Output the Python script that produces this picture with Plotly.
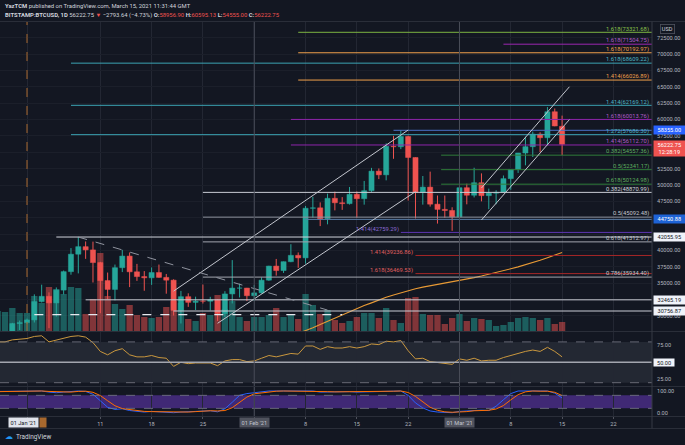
import plotly.graph_objects as go
import pandas as pd

# ---------------- data ----------------
dates = pd.date_range("2020-12-28", "2021-03-15", freq="D")

opens = [26281, 27037, 27360, 28840,
         28983, 29393, 32195, 33000, 31988, 33950, 36770, 39432, 40582, 40088,
         38150, 35404, 34051, 37371, 39144, 36742, 36014, 35828, 36631, 35891,
         35468, 30850, 32945, 32078, 32259, 32254, 32467, 30366, 33364, 34252, 34262,
         33092, 33526, 35466, 37618, 36936, 38290, 39256, 38870, 46448, 46514,
         44839, 47969, 47287, 47153, 48577, 47911, 49133, 52119, 51552, 55906,
         55841, 57412, 54204, 48891, 49676, 47073, 46276, 46106,
         45135, 49587, 48440, 50349, 48374, 48751, 48882, 50971, 52375, 54885,
         55851, 57773, 57221, 61188, 58957]
highs = [27500, 27400, 28950, 29300,
         29600, 33300, 34778, 33600, 34360, 36939, 40365, 42056, 41380, 41350,
         38264, 36628, 37850, 40100, 39700, 37950, 36852, 37405, 37850, 36415,
         35600, 33826, 33456, 32944, 34802, 32921, 32557, 33783, 38531, 34934, 34288,
         34717, 35896, 37662, 38708, 38310, 40955, 39700, 46794, 48200, 47345,
         48678, 48985, 48150, 49700, 49010, 50620, 52618, 52530, 56368, 57505,
         58355, 57535, 54204, 51374, 52041, 48394, 48394, 46600,
         49790, 50200, 52640, 51773, 49448, 49200, 51450, 52400, 54900, 57387,
         58150, 58058, 61900, 61682, 60595]
lows = [26101, 25987, 27360, 27850,
        28803, 29000, 32052, 28130, 29900, 33288, 36300, 36500, 38720, 35111,
        30420, 32531, 32380, 36701, 34408, 35357, 33850, 34750, 35844, 33400,
        30071, 28850, 31390, 30900, 31900, 30837, 29241, 29842, 31915, 32825, 32270,
        32296, 33418, 35366, 36161, 36570, 38215, 37351, 37988, 45020, 43727,
        43994, 46125, 46202, 47014, 45000, 47000, 48947, 50901, 50710, 54000,
        55477, 47622, 44889, 47003, 46700, 44108, 45000, 43000,
        45019, 47047, 48100, 47500, 46300, 47070, 48882, 49274, 51845, 53005,
        54270, 55013, 56083, 58966, 54555]
closes = [27037, 27360, 28840, 28983,
          29393, 32195, 33000, 31988, 33950, 36770, 39432, 40582, 40088, 38150,
          35404, 34051, 37371, 39144, 36742, 36014, 35828, 36631, 35891, 35468,
          30850, 32945, 32078, 32259, 32254, 32467, 30366, 33364, 34252, 34262, 33092,
          33526, 35466, 37618, 36936, 38290, 39256, 38870, 46448, 46514, 44839,
          47969, 47287, 47153, 48577, 47911, 49133, 52119, 51552, 55906, 55841,
          57412, 54204, 48891, 49676, 47073, 46276, 46106, 45135,
          49587, 48440, 50349, 48374, 48751, 48882, 50971, 52375, 54885, 55851,
          57773, 57221, 61188, 59016, 56223]
volumes = [8000, 7600, 9200, 7200,
           7200, 14000, 11200, 17600, 16800, 14800, 17600, 17200, 6800, 12800,
           31200, 14000, 10800, 8800, 10400, 6400, 5600, 5200, 5600, 9600,
           12000, 11200, 4800, 4000, 7200, 6400, 14400, 8800, 12000, 5600, 4000,
           5600, 5600, 6400, 9200, 5600, 6800, 4800, 14800, 10400, 6800,
           8400, 4400, 3200, 4000, 5600, 7200, 7200, 5200, 9200, 4400,
           3200, 13200, 13600, 6800, 6400, 6400, 2800, 5200,
           6800, 4000, 5200, 4800, 4400, 2000, 2400, 3600, 5200, 5600,
           5200, 4400, 5200, 2800, 3600]
rsi = [80, 80, 83, 84,
       85, 88, 89, 80, 83, 86, 88, 89, 87, 79,
       66, 61, 67, 70, 61, 58, 58, 60, 57, 56,
       44, 50, 48, 49, 49, 49, 45, 52, 54, 54, 51,
       52, 56, 60, 58, 61, 63, 62, 74, 74, 69,
       73, 71, 71, 73, 71, 73, 77, 76, 81, 80,
       82, 67, 55, 56, 51, 50, 49, 47,
       55, 53, 56, 52, 53, 53, 57, 60, 64, 66,
       68, 66, 72, 66, 58]
stoch_k = [98, 98, 99, 100,
           100, 100, 100, 95, 92, 95, 98, 100, 98, 85,
           55, 25, 15, 18, 10, 5, 3, 6, 4, 3,
           0, 3, 5, 8, 10, 9, 4, 18, 48, 80, 88,
           92, 96, 100, 100, 100, 100, 98, 100, 100, 95,
           96, 97, 96, 97, 95, 96, 98, 98, 100, 100,
           100, 80, 45, 22, 8, 3, 2, 0,
           6, 8, 12, 12, 10, 30, 60, 88, 100, 100,
           100, 98, 100, 90, 68]
stoch_d = [97, 98, 98, 99,
           100, 100, 100, 98, 96, 94, 95, 98, 99, 94,
           79, 55, 32, 19, 14, 11, 6, 5, 4, 4,
           2, 2, 3, 5, 8, 9, 8, 10, 23, 49, 72,
           87, 92, 96, 99, 100, 100, 99, 99, 99, 98,
           97, 96, 96, 97, 96, 96, 96, 97, 99, 99,
           100, 93, 75, 49, 25, 11, 4, 2,
           3, 5, 9, 11, 11, 17, 33, 59, 83, 96,
           100, 99, 99, 94, 79]

ma_dates = pd.date_range("2021-02-06", "2021-03-15", freq="D")
ma_values = [26900, 27300, 27700, 28200, 28700, 29200, 29700, 30200, 30700, 31150,
             31600, 32000, 32450, 32850, 33200, 33550, 33850, 34150, 34400, 34600,
             34800, 35000, 35150,
             35350, 35600, 35850, 36100, 36350, 36600, 36900, 37200, 37500, 37800,
             38100, 38500, 38900, 39300, 39700]

# Fibonacci levels labelled at the right edge
fib_values = [73321.68, 71504.75, 70192.97, 68609.22, 66026.89, 62169.12, 60013.76,
              57686.30, 56112.70, 54557.36, 52341.17, 50124.98, 48870.99, 45092.48,
              41312.97, 35934.40]
fib_ratios = ["1.618", "1.618", "1.618", "1.618", "1.414", "1.414", "1.618",
              "1.272", "1.414", "0.382", "0.5", "0.618", "0.382", "0.5", "0.618", "0.786"]
fib_starts = ["2021-02-07", "2021-03-07", "2021-02-07", "2021-01-07", "2021-02-07",
              "2021-01-07", "2021-02-06", "2021-01-07", "2021-02-06",
              "2021-02-26 12:00", "2021-02-26 12:00", "2021-02-26 12:00",
              "2021-01-25", "2021-01-25", "2021-01-25", "2021-01-25"]
# Fibonacci levels labelled at their left end
left_values = [42759.29, 39236.86, 36469.53]
left_ratios = ["1.414", "1.414", "1.618"]
left_starts = ["2021-02-21", "2021-02-23", "2021-02-23"]
# horizontal rays with price-axis labels
ray_values = [58355.00, 44750.88, 42055.95, 32465.19, 30756.87]
ray_starts = ["2021-02-20", "2021-02-08", "2021-01-05", "2021-01-09", "2021-01-21"]
last_price = 56222.75
countdown = "12:28:19"

# trend lines: (date0, price0, date1, price1)
trend_lines = [("2021-01-21", 33800, "2021-02-22", 58400),
               ("2021-01-27", 28880, "2021-02-23", 48977),
               ("2021-03-04", 49540, "2021-03-16", 65000),
               ("2021-03-04", 44655, "2021-03-16", 59990)]
desc_line = ("2021-01-08", 42056, "2021-02-11", 30900)
support_dash = ("2021-01-02", 30200, "2021-02-13", 30200)

marker_date = "2021-01-01"
month_lines = ["2021-02-01", "2021-03-01"]
month_texts = ["01 Feb '21", "01 Mar '21"]
tick_dates = ["2021-01-01", "2021-01-11", "2021-01-18", "2021-01-25", "2021-02-01",
              "2021-02-08", "2021-02-15", "2021-02-22", "2021-03-01", "2021-03-08",
              "2021-03-15", "2021-03-22"]
tick_texts = ["", "11", "18", "25", "", "8", "15", "22", "", "8", "15", "22"]
price_ticks = list(range(30000, 72501, 2500))
hidden_price_ticks = [32500, 42500, 45000, 55000]  # covered by label boxes

# ---------------- styling ----------------
W, H = 685, 445
PR = 652  # plot right edge in px
BG = "#131722"
UP, DN = "#26a69a", "#ef5350"
TXT = "#b2b5be"
FONT = "Roboto"
FS = 5.6


def py(px):
    return 1 - px / H


X_RANGE = ["2020-12-28 07:36", "2021-03-27 06:23"]
P_RANGE = [27703, 74894]
DAY_MS = 86400000

fib_colors = ["#7cb342", "#9c27b0", "#f0a04b", "#3ba3b3", "#f0a04b", "#3ba3b3", "#8e24aa",
              "#3ba3b3", "#8e24aa", "#2f7d3a", "#2f7d3a", "#2f7d3a", "#c9ccd4", "#8f939e",
              "#a3a6af", "#a3a6af"]
fib_text_colors = ["#8bc34a", "#b05cc8", "#f0a04b", "#4fb6c4", "#f0a04b", "#4fb6c4", "#b05cc8",
                   "#4fb6c4", "#b05cc8", "#5fae5f", "#5fae5f", "#5fae5f", "#d1d4dc", "#c3c6ce",
                   "#c3c6ce", "#c3c6ce"]
left_colors = ["#5e35b1", "#a52727", "#a52727"]
left_text_colors = ["#8c6bd6", "#e06060", "#e06060"]
ray_colors = ["#4a72c8", "#5a7ea8", "#d1d4dc", "#c9ccd4", "#c9ccd4"]
ray_bg = ["#2962ff", "#1e63d6", "#f0f3fa", "#f0f3fa", "#f0f3fa"]
ray_fg = ["#ffffff", "#ffffff", "#131722", "#131722", "#131722"]

fig = go.Figure()

# volume (base axis y, drawn underneath)
vol_colors = ["rgba(38,166,154,0.5)" if c >= o else "rgba(239,83,80,0.5)"
              for o, c in zip(opens, closes)]
fig.add_trace(go.Bar(x=dates, y=volumes, width=0.86 * DAY_MS, marker_color=vol_colors,
                     marker_line_width=0, xaxis="x", yaxis="y", hoverinfo="skip"))

# moving average
fig.add_trace(go.Scatter(x=ma_dates, y=ma_values, mode="lines",
                         line=dict(color="#e89a35", width=1.1), xaxis="x", yaxis="y2"))

# candle wicks
for up in (True, False):
    xs, ys = [], []
    for d, o, h, l, c in zip(dates, opens, highs, lows, closes):
        if (c >= o) == up:
            xs += [d, d, None]
            ys += [l, h, None]
    fig.add_trace(go.Scatter(x=xs, y=ys, mode="lines",
                             line=dict(color=UP if up else DN, width=1),
                             xaxis="x", yaxis="y2", hoverinfo="skip"))
# candle bodies
body_colors = [UP if c >= o else DN for o, c in zip(opens, closes)]
fig.add_trace(go.Bar(x=dates, y=[abs(c - o) for o, c in zip(opens, closes)],
                     base=[min(o, c) for o, c in zip(opens, closes)],
                     width=0.7 * DAY_MS, marker_color=body_colors,
                     marker_line_color=body_colors, marker_line_width=0.5,
                     xaxis="x", yaxis="y2", hoverinfo="skip"))

# horizontal levels
for v, s, col in zip(fib_values, fib_starts, fib_colors):
    fig.add_trace(go.Scatter(x=[s, X_RANGE[1]], y=[v, v], mode="lines",
                             line=dict(color=col, width=1), xaxis="x", yaxis="y2"))
for v, s, col in zip(left_values, left_starts, left_colors):
    fig.add_trace(go.Scatter(x=[s, X_RANGE[1]], y=[v, v], mode="lines",
                             line=dict(color=col, width=1), xaxis="x", yaxis="y2"))
for v, s, col in zip(ray_values, ray_starts, ray_colors):
    fig.add_trace(go.Scatter(x=[s, X_RANGE[1]], y=[v, v], mode="lines",
                             line=dict(color=col, width=1), xaxis="x", yaxis="y2"))

# trend lines
for x0, y0, x1, y1 in trend_lines:
    fig.add_trace(go.Scatter(x=[x0, x1], y=[y0, y1], mode="lines",
                             line=dict(color="#c3c6ce", width=1), xaxis="x", yaxis="y2"))
fig.add_trace(go.Scatter(x=[desc_line[0], desc_line[2]], y=[desc_line[1], desc_line[3]],
                         mode="lines", line=dict(color="#8f939e", width=1, dash="dash"),
                         xaxis="x", yaxis="y2"))
fig.add_trace(go.Scatter(x=[support_dash[0], support_dash[2]],
                         y=[support_dash[1], support_dash[3]], mode="lines",
                         line=dict(color="#e6e8ee", width=1.3, dash="dash"),
                         xaxis="x", yaxis="y2"))
# orange dashed vertical marker
fig.add_trace(go.Scatter(x=[marker_date, marker_date], y=P_RANGE, mode="lines",
                         line=dict(color="#a8682e", width=1, dash="dash"),
                         xaxis="x", yaxis="y2"))

# RSI
fig.add_trace(go.Scatter(x=dates, y=rsi, mode="lines", line=dict(color="#c9973e", width=1),
                         xaxis="x2", yaxis="y3"))
# Stoch RSI
fig.add_trace(go.Scatter(x=dates, y=stoch_k, mode="lines", line=dict(color="#2962ff", width=1),
                         xaxis="x3", yaxis="y4"))
fig.add_trace(go.Scatter(x=dates, y=stoch_d, mode="lines", line=dict(color="#ff6d00", width=1),
                         xaxis="x3", yaxis="y4"))

# ---------------- shapes ----------------
shapes = []
# bands
shapes.append(dict(type="rect", xref="paper", x0=0, x1=1, yref="y3", y0=20, y1=80,
                   fillcolor="rgba(120,123,134,0.17)", line_width=0, layer="below"))
shapes.append(dict(type="rect", xref="paper", x0=0, x1=1, yref="y4", y0=20, y1=80,
                   fillcolor="rgba(110,60,200,0.5)", line_width=0, layer="below"))
for ax in ("y3", "y4"):
    for lv in (20, 80):
        shapes.append(dict(type="line", xref="paper", x0=0, x1=1, yref=ax, y0=lv, y1=lv,
                           line=dict(color="#787b86", width=0.8, dash="dash")))
shapes.append(dict(type="line", xref="paper", x0=0, x1=1, yref="y3", y0=50, y1=50,
                   line=dict(color="#a3a6af", width=1.4)))
# month vertical lines
for d in month_lines:
    shapes.append(dict(type="line", xref="x", x0=d, x1=d, yref="paper", y0=py(416), y1=py(22),
                       line=dict(color="#4a4e59", width=1)))
# separators
for yy in (21.5, 331.5, 386.5, 416.5, 428.5):
    shapes.append(dict(type="line", xref="paper", x0=0, x1=W / PR, yref="paper",
                       y0=py(yy), y1=py(yy), line=dict(color="#2a2e39", width=1)))
shapes.append(dict(type="line", xref="paper", x0=1, x1=1, yref="paper", y0=py(428.5),
                   y1=py(21.5), line=dict(color="#363a45", width=1)))

# ---------------- annotations ----------------
ann = []
fnt = lambda c, s=FS: dict(family=FONT, size=s, color=c)
for v, r, tc in zip(fib_values, fib_ratios, fib_text_colors):
    ann.append(dict(xref="paper", x=650 / PR, xanchor="right", yref="y2", y=v,
                    yanchor="middle", yshift=3.2, text=f"{r}({v:.2f})", showarrow=False,
                    font=fnt(tc, 5.8), borderpad=0))
for v, r, s, tc in zip(left_values, left_ratios, left_starts, left_text_colors):
    ann.append(dict(xref="x", x=s, xanchor="right", xshift=-1, yref="y2", y=v,
                    yanchor="middle", yshift=3, text=f"{r}({v:.2f})", showarrow=False,
                    font=fnt(tc, 5.8), borderpad=0))
for v, bg, fg in zip(ray_values, ray_bg, ray_fg):
    ann.append(dict(xref="paper", x=1, xanchor="left", xshift=0.5, yref="y2", y=v,
                    yanchor="middle", text=f"{v:.2f}", showarrow=False, bgcolor=bg,
                    font=fnt(fg), width=29, borderpad=0.8))
ann.append(dict(xref="paper", x=1, xanchor="left", xshift=0.5, yref="y2", y=last_price,
                yanchor="top", yshift=4.5, text=f"{last_price:.2f}<br>{countdown}",
                showarrow=False, bgcolor="#ef5350", font=fnt("#ffffff"), width=29,
                borderpad=0.8))
ann.append(dict(xref="paper", x=1, xanchor="left", xshift=0.5, yref="y3", y=50,
                yanchor="middle", text="50.00", showarrow=False, bgcolor="#f0f3fa",
                font=fnt("#131722"), width=19, borderpad=0.6))
ann.append(dict(xref="paper", x=667.5 / PR, xanchor="center", yref="paper", y=py(28.5),
                yanchor="middle", text="USD", showarrow=False, bgcolor=BG,
                bordercolor="#50535e", borderwidth=0.8, font=fnt("#d1d4dc"), borderpad=1))
# time-axis boxes
for d, t in zip(month_lines, month_texts):
    ann.append(dict(xref="x3", x=d, xanchor="center", yref="paper", y=py(422.5),
                    yanchor="middle", text=t, showarrow=False, bgcolor="#50535e",
                    font=fnt("#c3c6ce"), borderpad=1.6))
ann.append(dict(xref="x3", x=marker_date, xanchor="right", xshift=11.5, yref="paper",
                y=py(422.5), yanchor="middle", text="01 Jan '21", showarrow=False,
                bgcolor="#e0e3eb", font=fnt("#131722"), borderpad=1.6))
ann.append(dict(xref="x3", x=marker_date, xanchor="left", xshift=11.5, yref="paper",
                y=py(422.5), yanchor="middle", text=" ", showarrow=False,
                bgcolor="#a8682e", font=fnt("#a8682e"), width=3, borderpad=1.6))
# header
ann.append(dict(xref="paper", x=3 / PR, xanchor="left", yref="paper", y=py(6),
                yanchor="middle", showarrow=False, font=fnt("#d1d4dc", 5.9),
                text="<b>YazTCM</b> published on TradingView.com, March 15, 2021 11:31:44 GMT"))
R = "#ef5350"
ann.append(dict(xref="paper", x=3 / PR, xanchor="left", yref="paper", y=py(15.5),
                yanchor="middle", showarrow=False, font=fnt("#d1d4dc", 5.9),
                text=(f"<b>BITSTAMP:BTCUSD, 1D</b> 56222.75 <span style='color:{R}'>▼</span> "
                      f"−2793.64 (−4.73%) <b>O:</b><span style='color:{R}'>58956.90</span> "
                      f"<b>H:</b><span style='color:{R}'>60595.13</span> "
                      f"<b>L:</b><span style='color:{R}'>54555.00</span> "
                      f"<b>C:</b><span style='color:{R}'>56222.75</span>")))
# footer
ann.append(dict(xref="paper", x=3 / PR, xanchor="left", yref="paper", y=py(436.5),
                yanchor="middle", showarrow=False, font=fnt("#2196f3", 8), text="☁"))
ann.append(dict(xref="paper", x=14 / PR, xanchor="left", yref="paper", y=py(436.5),
                yanchor="middle", showarrow=False, font=fnt("#d1d4dc", 6.4), text="TradingView"))

# ---------------- layout ----------------
xcommon = dict(type="date", range=X_RANGE, tickvals=tick_dates, ticktext=tick_texts,
               showgrid=True, gridcolor="#232733", gridwidth=1, zeroline=False,
               showline=False, fixedrange=True)
price_ticktext = ["" if v in hidden_price_ticks else f"{v:.2f}" for v in price_ticks]
fig.update_layout(
    width=W, height=H, margin=dict(l=0, r=W - PR, t=0, b=0),
    paper_bgcolor=BG, plot_bgcolor=BG, showlegend=False, barmode="overlay",
    font=dict(family=FONT, size=FS, color=TXT),
    xaxis=dict(**xcommon, anchor="y", showticklabels=False, rangeslider=dict(visible=False)),
    xaxis2=dict(**xcommon, anchor="y3", matches="x", showticklabels=False),
    xaxis3=dict(**xcommon, anchor="y4", matches="x", showticklabels=True,
                ticks="outside", ticklen=2, tickcolor="#50535e",
                tickfont=dict(family=FONT, size=FS, color=TXT)),
    yaxis=dict(domain=[py(331), py(22)], range=[0, 123600], visible=False, fixedrange=True),
    yaxis2=dict(domain=[py(331), py(22)], overlaying="y", side="right", range=P_RANGE,
                tickvals=price_ticks, ticktext=price_ticktext,
                showgrid=True, gridcolor="#1b1f2a", zeroline=False, ticks="",
                ticklabelstandoff=4, tickfont=dict(family=FONT, size=FS, color=TXT)),
    yaxis3=dict(domain=[py(386), py(332)], anchor="x2", side="right", range=[15.15, 94.56],
                tickvals=[25, 75], ticktext=["25.00", "75.00"], showgrid=False,
                zeroline=False, ticks="", ticklabelstandoff=4,
                tickfont=dict(family=FONT, size=FS, color=TXT)),
    yaxis4=dict(domain=[py(416), py(387)], anchor="x3", side="right", range=[-15.2, 118.4],
                tickvals=[0, 100], ticktext=["0.00", "100.00"], showgrid=False,
                zeroline=False, ticks="", ticklabelstandoff=4,
                tickfont=dict(family=FONT, size=FS, color=TXT)),
    shapes=shapes, annotations=ann,
)

fig.write_html("out.html")
